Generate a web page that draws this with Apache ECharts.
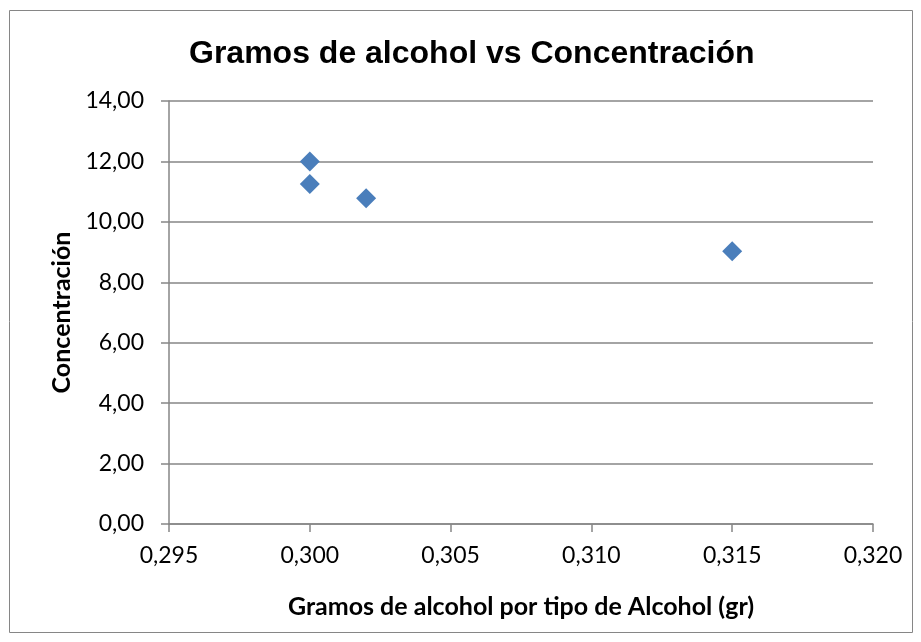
<!DOCTYPE html>
<html>
<head>
<meta charset="utf-8">
<script src="https://cdn.jsdelivr.net/npm/echarts@6/dist/echarts.min.js"></script>
<style>
  html, body { margin: 0; padding: 0; background: #fff; }
  #chart { width: 921px; height: 642px; }
</style>
</head>
<body>
<div id="chart"></div>
<script>
// datos
var gramos = [0.300, 0.300, 0.302, 0.315];
var concentracion = [12.00, 11.25, 10.78, 9.03];
var tituloGrafico = 'Gramos de alcohol vs Concentración';
var tituloX = 'Gramos de alcohol por tipo de Alcohol (gr)';
var tituloY = 'Concentración';

var puntos = [];
for (var i = 0; i < gramos.length; i++) {
    puntos.push([gramos[i], concentracion[i]]);
}

var fuente = 'Lato, "Open Sans", sans-serif';
var gris = '#868686';

var myChart = echarts.init(document.getElementById('chart'));
var option = {
    backgroundColor: '#fff',
    animation: false,
    title: {
        text: tituloGrafico,
        left: 184,
        top: 33,
        textStyle: {
            fontFamily: '"Liberation Sans", Arial, sans-serif',
            fontWeight: 'bold',
            fontSize: 32,
            color: '#000'
        }
    },
    graphic: [{
        type: 'rect',
        shape: { x: 9.5, y: 10.5, width: 903, height: 622 },
        style: { fill: 'none', stroke: gris, lineWidth: 1 },
        silent: true
    }],
    grid: {
        left: 169,
        right: 48,
        top: 101,
        bottom: 118,
        containLabel: false
    },
    xAxis: {
        type: 'value',
        min: 0.295,
        max: 0.320,
        interval: 0.005,
        name: tituloX,
        nameLocation: 'middle',
        nameGap: 70,
        nameTextStyle: { fontFamily: fuente, fontWeight: 'bold', fontSize: 25, color: '#000' },
        axisLine: { show: true, lineStyle: { color: gris, width: 1.5 } },
        axisTick: { show: true, length: 8, inside: false, lineStyle: { color: gris, width: 1.5 } },
        axisLabel: {
            fontFamily: fuente, fontSize: 23, color: '#000', margin: 20,
            formatter: function (v) { return v.toFixed(3).replace('.', ','); }
        },
        splitLine: { show: false }
    },
    yAxis: {
        type: 'value',
        min: 0,
        max: 14,
        interval: 2,
        name: tituloY,
        nameLocation: 'middle',
        nameGap: 95,
        nameRotate: 90,
        nameTextStyle: { fontFamily: fuente, fontWeight: 'bold', fontSize: 25, color: '#000' },
        axisLine: { show: true, lineStyle: { color: gris, width: 1.5 } },
        axisTick: { show: true, length: 8, lineStyle: { color: gris, width: 1.5 } },
        axisLabel: {
            fontFamily: fuente, fontSize: 23, color: '#000', margin: 25,
            formatter: function (v) { return v.toFixed(2).replace('.', ','); }
        },
        splitLine: { show: true, lineStyle: { color: gris, width: 1.5 } }
    },
    series: [{
        type: 'scatter',
        data: puntos,
        symbol: 'diamond',
        symbolSize: [20, 20],
        itemStyle: { color: '#4a7ebb', opacity: 1 }
    }]
};
myChart.setOption(option);
</script>
</body>
</html>
